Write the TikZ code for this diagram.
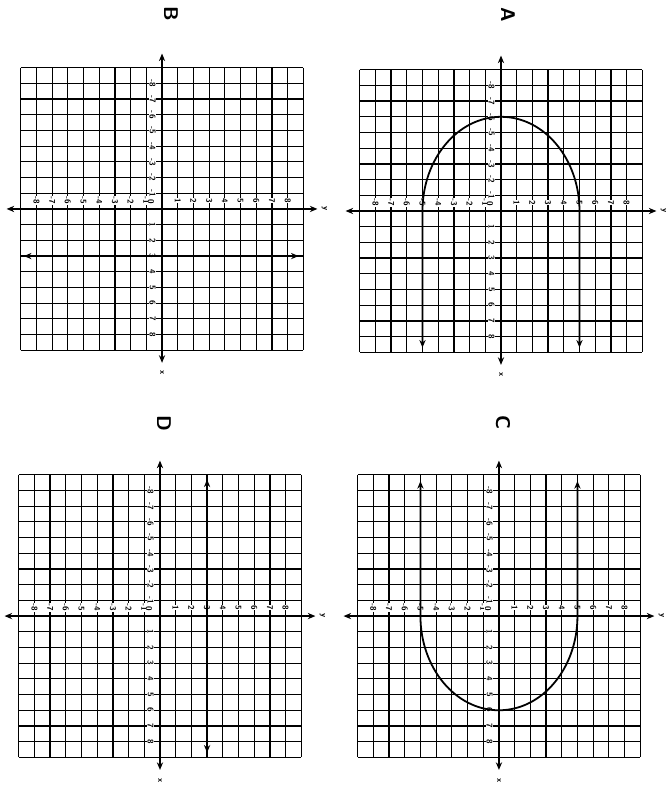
\documentclass[tikz,border=0pt]{standalone}
\usepackage{tikz}
\usetikzlibrary{arrows.meta}

\tikzset{
  gridlines/.style={line width=0.9pt},
  axisline/.style={line width=1.3pt, <->},
  curveline/.style={line width=1.3pt, <->},
  ticklabel/.style={font=\sffamily\bfseries\fontsize{6}{7}\selectfont, rotate=-90, fill=white, inner sep=0.3pt},
  panellabel/.style={font=\sffamily\bfseries\Large, rotate=-90},
}

\begin{document}
\begin{tikzpicture}[x=0.4cm, y=0.4cm, >={Stealth[length=5.5pt,width=4.5pt]}]
  \useasboundingbox (0,0) rectangle (42.8,50);

  \coordinate (oA) at (31.91,36.56);
  \coordinate (oB) at (10.32,36.69);
  \coordinate (oC) at (31.78,10.76);
  \coordinate (oD) at (10.19,10.76);

  % the four coordinate planes
  \foreach \o in {oA,oB,oC,oD} {
    \begin{scope}[shift={(\o)}, rotate=-90]
      \foreach \g in {-9,...,9} {
        \draw[gridlines] (\g,-9) -- (\g,9);
        \draw[gridlines] (-9,\g) -- (9,\g);
      }
      \draw[axisline] (-9.9,0) -- (9.8,0);
      \draw[axisline] (0,-9.9) -- (0,9.9);
      \foreach \k in {1,...,8} {
        \node[ticklabel] at (\k,-0.6) {\k};
        \node[ticklabel] at (-\k,-0.6) {-\k};
        \node[ticklabel] at (-0.55,\k) {\k};
        \node[ticklabel] at (-0.55,-\k) {-\k};
      }
      \node[ticklabel] at (-0.45,-0.7) {0};
      \node[ticklabel, fill=none] at (10.45,0) {x};
      \node[ticklabel, fill=none] at (0,10.35) {y};
    \end{scope}
  }

  % A
  \begin{scope}[shift={(oA)}, rotate=-90]
    \draw[curveline] (8.7,5) -- (0,5) arc[start angle=90, end angle=270, x radius=6, y radius=5] -- (8.7,-5);
  \end{scope}
  % B
  \begin{scope}[shift={(oB)}, rotate=-90]
    \draw[curveline] (3,-8.8) -- (3,8.7);
  \end{scope}
  % C
  \begin{scope}[shift={(oC)}, rotate=-90]
    \draw[curveline] (-8.6,5) -- (0,5) arc[start angle=90, end angle=-90, x radius=6, y radius=5] -- (-8.6,-5);
  \end{scope}
  % D
  \begin{scope}[shift={(oD)}, rotate=-90]
    \draw[curveline] (-8.7,3) -- (8.7,3);
  \end{scope}

  \node[panellabel] (labA) at (32.36,49.04) {A};
  \node[panellabel] (labB) at (10.89,49.1) {B};
  \node[panellabel] (labC) at (32.04,23.06) {C};
  \node[panellabel] (labD) at (10.45,23.06) {D};
\end{tikzpicture}
\end{document}
